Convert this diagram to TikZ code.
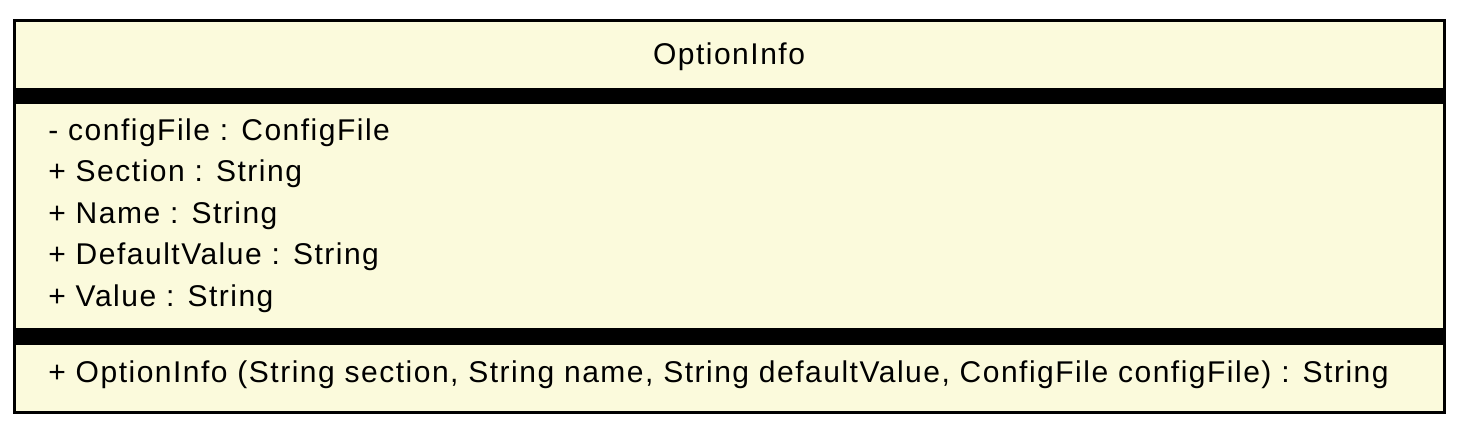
\documentclass[tikz,border=0pt]{standalone}
\usepackage{fontspec}
\setmainfont[LetterSpace=5]{Liberation Sans}
\usetikzlibrary{positioning}
\definecolor{classfill}{HTML}{FBFADC}
\tikzset{
    member/.style={anchor=west, inner sep=0pt, font=\fontsize{15}{18}\selectfont},
    classname/.style={inner sep=0pt, font=\fontsize{15}{18}\selectfont}
}

\begin{document}
\begin{tikzpicture}[x=0.5pt, y=-0.5pt]
        \useasboundingbox (0,0) rectangle (1458,433);
        \fill[classfill] (14.5,20.5) rectangle (1444.5,412.5);
        \fill[black] (14.5,88) rectangle (1444.5,104);
        \fill[black] (14.5,328) rectangle (1444.5,345);
        \draw[line width=1.5pt] (14.5,20.5) rectangle (1444.5,412.5);
        \node[classname] (title) at (729,57) {OptionInfo};
        \foreach \t [count=\i] in {- configFile : ConfigFile, + Section : String, + Name : String, + DefaultValue : String, + Value : String} {
            \node[member] (attr\i) at (48,91+41.5*\i) {\t};
        }
        \node[member] (method) at (48,375) {+ OptionInfo (String section, String name, String defaultValue, ConfigFile configFile) : String};
    \end{tikzpicture}
\end{document}
